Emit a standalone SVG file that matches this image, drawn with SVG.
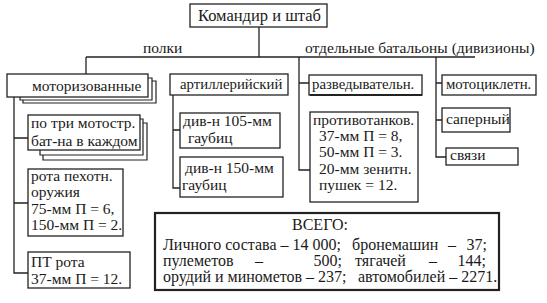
<svg xmlns="http://www.w3.org/2000/svg" width="547" height="303" viewBox="0 0 547 303">
<style>
text{font-family:"Liberation Serif","DejaVu Serif",serif;font-size:15.5px;fill:#1a1a1a}
.big{font-size:16.5px}
.sm{font-size:14.8px}
.tot text{font-size:16px}
.b{fill:#fff;stroke:#222;stroke-width:1.3}
.s{fill:none;stroke:#222;stroke-width:1.2}
.c{fill:none;stroke:#222;stroke-width:1.3}
.t{stroke-width:2.2}
</style>
<rect width="547" height="303" fill="#fff"/>
<g id="connectors">
<path class="c" d="M259,27V57M86,57H475M86,57V74M299,57V170H310M299,83H309M436,57V157H446M436,83H442M436,120H442"/>
<path class="c" d="M14,97V273H28M14,138H28M14,203H28"/>
<path class="c" d="M173,95V188H180M173,130H180"/>
</g>
<g id="labels">
<text x="143" y="53">полки</text>
<text x="305" y="53">отдельные батальоны (дивизионы)</text>
</g>
<g id="hq">
<rect class="b" x="190" y="4" width="137" height="23"/>
<text class="big" x="198" y="21">Командир и штаб</text>
</g>
<g id="motor">
<path class="s" d="M20,97V100H152V78H148M23,100V103H156V81H152"/>
<rect class="b" x="7" y="74" width="141" height="23"/>
<text x="32" y="91">моторизованные</text>
</g>
<g id="motbat">
<path class="s" d="M40,150V155H143V119H140M43,155V160H147V123H143"/>
<rect class="b" x="28" y="115" width="112" height="35"/>
<text x="31" y="128">по три мотостр.</text>
<text x="31" y="146">бат-на в каждом</text>
</g>
<g id="rota">
<rect class="b" x="28" y="169" width="95" height="67"/>
<text x="31" y="181">рота пехотн.</text>
<text x="31" y="197">оружия</text>
<text x="31" y="214">75-мм П = 6,</text>
<text x="31" y="230">150-мм П = 2.</text>
</g>
<g id="ptrota">
<rect class="b" x="28" y="252" width="102" height="36"/>
<text x="31" y="267">ПТ рота</text>
<text x="31" y="284">37-мм П = 12.</text>
</g>
<g id="art">
<rect class="b" x="170" y="74" width="118" height="21"/>
<text class="sm" x="180" y="89">артиллерийский</text>
</g>
<g id="div105">
<rect class="b" x="180" y="113" width="100" height="35"/>
<text x="183" y="126">див-н 105-мм</text>
<text x="188" y="143">гаубиц</text>
</g>
<g id="div150">
<rect class="b" x="180" y="157" width="103" height="40"/>
<text x="185" y="173">див-н 150-мм</text>
<text x="182" y="190">гаубиц</text>
</g>
<g id="razv">
<rect class="b" x="309" y="75" width="113" height="20"/>
<line class="c t" x1="310" y1="95" x2="422" y2="95"/>
<text class="sm" x="312" y="89">разведывательн.</text>
</g>
<g id="pt">
<rect class="b" x="310" y="112" width="108" height="90"/>
<text x="313" y="125">противотанков.</text>
<text x="319" y="141">37-мм П = 8,</text>
<text x="319" y="157">50-мм П = 3.</text>
<text x="319" y="174">20-мм зенитн.</text>
<text x="319" y="190">пушек = 12.</text>
</g>
<g id="moto">
<rect class="b" x="442" y="75" width="94" height="20"/>
<text class="sm" x="446" y="89">мотоциклетн.</text>
</g>
<g id="saper">
<rect class="b" x="442" y="108" width="68" height="24"/>
<text x="446" y="124">саперный</text>
</g>
<g id="svyazi">
<rect class="b" x="446" y="148" width="72" height="17"/>
<text x="450" y="160">связи</text>
</g>
<g id="total" class="tot">
<rect class="b t" x="155" y="213" width="344" height="77"/>
<text x="320" y="230" text-anchor="middle">ВСЕГО:</text>
<text x="163" y="250">Личного состава – 14 000;</text>
<text x="352" y="250">бронемашин</text>
<text x="452" y="250" text-anchor="middle">–</text>
<text x="487" y="250" text-anchor="end">37;</text>
<text x="163" y="266">пулеметов</text>
<text x="259" y="266" text-anchor="middle">–</text>
<text x="342" y="266" text-anchor="end">500;</text>
<text x="355" y="266">тягачей</text>
<text x="433" y="266" text-anchor="middle">–</text>
<text x="486" y="266" text-anchor="end">144;</text>
<text x="163" y="282">орудий и минометов – 237;</text>
<text x="358" y="282">автомобилей – 2271.</text>
</g>
</svg>
